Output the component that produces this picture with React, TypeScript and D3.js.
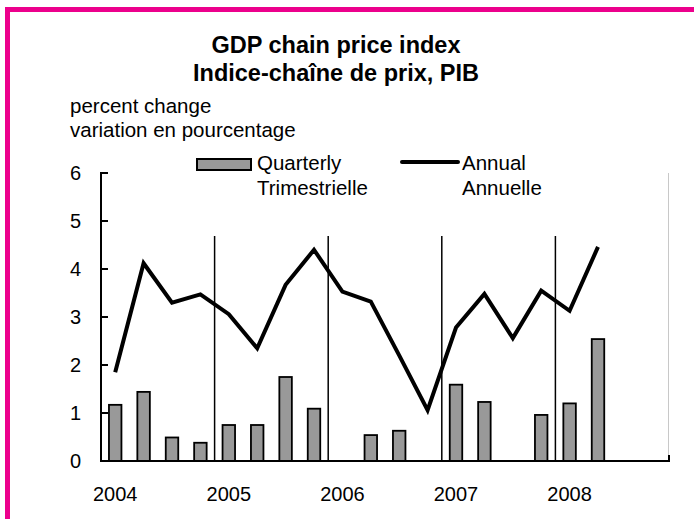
import * as d3 from 'd3';

// trimestres 2004T1 .. 2008T4
const quarters = [
  '2004Q1', '2004Q2', '2004Q3', '2004Q4',
  '2005Q1', '2005Q2', '2005Q3', '2005Q4',
  '2006Q1', '2006Q2', '2006Q3', '2006Q4',
  '2007Q1', '2007Q2', '2007Q3', '2007Q4',
  '2008Q1', '2008Q2', '2008Q3', '2008Q4',
];
const quarterly: (number | null)[] = [
  1.17, 1.44, 0.49, 0.38,
  0.75, 0.75, 1.75, 1.09,
  null, 0.54, 0.63, null,
  1.59, 1.23, null, 0.96,
  1.2, 2.54, null, null,
];
const annual = [
  1.85, 4.12, 3.3, 3.47,
  3.06, 2.35, 3.67, 4.4,
  3.53, 3.32, 2.2, 1.06,
  2.78, 3.48, 2.56, 3.55,
  3.13, 4.46,
];
const yTicks = [0, 1, 2, 3, 4, 5, 6];
const yearLabels = ['2004', '2005', '2006', '2007', '2008'];

const W = 694;
const H = 519;
const FONT = '"Liberation Sans", Arial, sans-serif';

export default function App() {
  const x = d3.scaleBand<string>()
    .domain(quarters)
    .range([101, 669])
    .paddingInner(0.56)
    .paddingOuter(0.28);
  const y = d3.scaleLinear().domain([0, 6]).range([461, 173]);
  const cx = (q: string) => (x(q) ?? 0) + x.bandwidth() / 2;

  const line = d3.line<number>()
    .x((_, i) => cx(quarters[i]))
    .y((d) => y(d));

  // séparateurs entre années
  const seps = yearLabels.slice(1).map((yr) => (x(yr + 'Q1') ?? 0) - x.step() * x.paddingInner() / 2);

  return (
    <svg width={W} height={H} style={{ position: 'absolute', left: 0, top: 0, background: '#fff' }} fontFamily={FONT}>
      <rect x={7.5} y={9.5} width={W + 20} height={H + 20} fill="none" stroke="#ec008c" strokeWidth={5} />

      {/* titre */}
      <text x={336} y={53} textAnchor="middle" fontWeight="bold" fontSize={23.5}>GDP chain price index</text>
      <text x={336} y={81} textAnchor="middle" fontWeight="bold" fontSize={23.5}>Indice-chaîne de prix, PIB</text>

      <text x={70} y={113} fontSize={20.5}>percent change</text>
      <text x={70} y={137} fontSize={20.5}>variation en pourcentage</text>

      {/* légende */}
      <rect x={197} y={159} width={54} height={11} fill="#999" stroke="#000" strokeWidth={2} />
      <text x={257} y={170} fontSize={20.5}>Quarterly</text>
      <text x={257} y={195} fontSize={20.5}>Trimestrielle</text>
      <line x1={402} x2={458} y1={162} y2={162} stroke="#000" strokeWidth={4} strokeLinecap="round" />
      <text x={462} y={170} fontSize={20.5}>Annual</text>
      <text x={462} y={195} fontSize={20.5}>Annuelle</text>

      {/* bord droit gris */}
      <line x1={668.5} x2={668.5} y1={173} y2={461} stroke="#c8c8c8" strokeWidth={1} />

      {/* barres */}
      {quarterly.map((v, i) =>
        v == null ? null : (
          <rect
            key={quarters[i]}
            x={x(quarters[i])}
            y={y(v)}
            width={x.bandwidth()}
            height={y(0) - y(v)}
            fill="#999"
            stroke="#000"
            strokeWidth={1.8}
          />
        ),
      )}

      {seps.map((sx) => (
        <line key={sx} x1={sx} x2={sx} y1={236} y2={461} stroke="#000" strokeWidth={1.5} />
      ))}

      <path d={line(annual) ?? ''} fill="none" stroke="#000" strokeWidth={4} strokeLinejoin="miter" />

      {/* axes */}
      <line x1={101} x2={101} y1={172} y2={462} stroke="#000" strokeWidth={2} />
      {yTicks.map((t) => (
        <g key={t}>
          <line x1={101} x2={108} y1={y(t)} y2={y(t)} stroke="#000" strokeWidth={2} />
          <text x={81} y={y(t) + 7} textAnchor="end" fontSize={20}>{t}</text>
        </g>
      ))}
      <line x1={100} x2={670} y1={461} y2={461} stroke="#000" strokeWidth={2} />
      <line x1={669} x2={669} y1={455} y2={462} stroke="#000" strokeWidth={2} />

      {yearLabels.map((yr) => (
        <text key={yr} x={cx(yr + 'Q1')} y={501} textAnchor="middle" fontSize={20}>{yr}</text>
      ))}
    </svg>
  );
}
